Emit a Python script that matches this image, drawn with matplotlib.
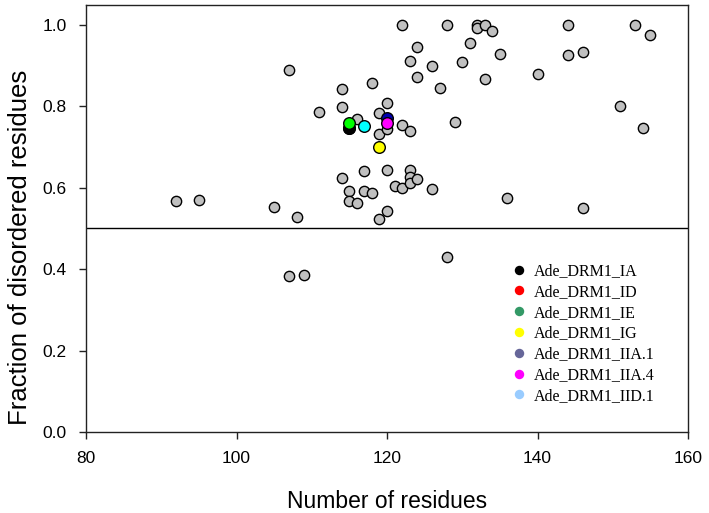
import matplotlib
matplotlib.use("Agg")
import matplotlib.pyplot as plt
from matplotlib.lines import Line2D

# background proteins (grey)
other_len = [92, 95, 105, 107, 107, 108, 109, 111, 114, 114, 114, 115, 115,
             116, 116, 117, 117, 118, 118, 119, 119, 119, 120, 120, 120, 120,
             121, 122, 122, 122, 123, 123, 123, 123, 123, 124, 124, 124, 126,
             126, 127, 128, 128, 129, 130, 131, 132, 132, 133, 133, 134, 135,
             136, 140, 144, 144, 146, 146, 151, 153, 154, 155]
other_frac = [0.567, 0.569, 0.553, 0.889, 0.384, 0.529, 0.386, 0.785, 0.843,
              0.799, 0.624, 0.592, 0.567, 0.769, 0.562, 0.642, 0.591, 0.857,
              0.586, 0.783, 0.731, 0.523, 0.809, 0.744, 0.643, 0.543, 0.604,
              1.0, 0.754, 0.599, 0.912, 0.740, 0.644, 0.627, 0.611, 0.945,
              0.872, 0.622, 0.898, 0.596, 0.844, 1.0, 0.431, 0.761, 0.909,
              0.955, 1.0, 0.992, 1.0, 0.867, 0.986, 0.928, 0.575, 0.880, 1.0,
              0.925, 0.934, 0.55, 0.802, 1.0, 0.748, 0.975]

# highlighted Ade DRM1 proteins
names = ["Ade_DRM1_IA", "Ade_DRM1_ID", "Ade_DRM1_IE", "Ade_DRM1_IG",
         "Ade_DRM1_IIA.1", "Ade_DRM1_IIA.4", "Ade_DRM1_IID.1"]
drm_len = [115, 115, 115, 119, 120, 120, 117]
drm_frac = [0.748, 0.748, 0.760, 0.699, 0.771, 0.759, 0.753]
point_colors = ["#000000", "#ff0000", "#00ff00", "#ffff00", "#0000b0",
                "#ff00ff", "#00ffff"]
legend_colors = ["#000000", "#ff0000", "#339966", "#ffff00", "#666699",
                 "#ff00ff", "#99ccff"]
draw_order = [1, 0, 2, 3, 6, 4, 5]

plt.rcParams['font.family'] = ['Liberation Sans', 'DejaVu Sans']

fig = plt.figure(figsize=(7.09, 5.13), dpi=100)
ax = fig.add_axes([0.1213, 0.1579, 0.8491, 0.8323])

ax.axhline(0.5, color='black', lw=1.0, zorder=1)
ax.scatter(other_len, other_frac, s=55, facecolor='#c0c0c0',
           edgecolor='black', linewidth=1.0, zorder=2)
for i in draw_order:
    ax.scatter(drm_len[i], drm_frac[i], s=70, facecolor=point_colors[i],
               edgecolor='black', linewidth=1.0, zorder=3)

ax.set_xlim(80, 160)
ax.set_ylim(0, 1.049)
ax.set_xticks([80, 100, 120, 140, 160])
ax.set_yticks([0.0, 0.2, 0.4, 0.6, 0.8, 1.0])
ax.set_yticklabels(["0.0", "0.2", "0.4", "0.6", "0.8", "1.0"])
ax.tick_params(direction='out', length=5, width=1, labelsize=12.5, pad=9,
               color='#222222')
for sp in ax.spines.values():
    sp.set_linewidth(1.0)
    sp.set_color('#222222')

ax.set_xlabel("Number of residues", fontsize=16.5, labelpad=17)
ax.set_ylabel("Fraction of disordered residues", fontsize=18.5)
ax.yaxis.set_label_coords(-0.09, 0.433)

handles = [Line2D([], [], linestyle='none', marker='o', markersize=6.8,
                  markerfacecolor=c, markeredgewidth=0) for c in legend_colors]
ax.legend(handles, names, loc='upper left', bbox_to_anchor=(0.6927, 0.414),
          frameon=False, handlelength=1.0, handletextpad=0.44,
          labelspacing=0.3, borderpad=0,
          prop={'family': 'Liberation Serif', 'size': 11.5})

fig.savefig("out.png", dpi=100)
